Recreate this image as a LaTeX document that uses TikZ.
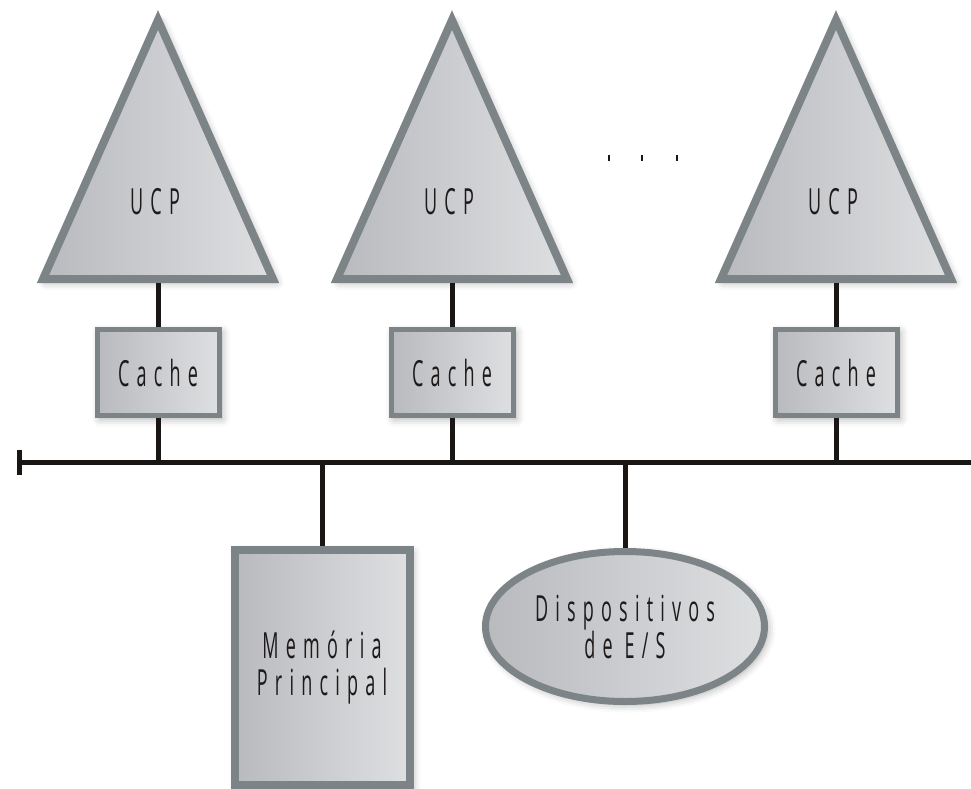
\documentclass[tikz,border=0pt]{standalone}
\usepackage{fontspec}
\usepackage{tikz}
\usetikzlibrary{shapes.geometric,shadows.blur,arrows.meta}
\newfontfamily\lblfont{Open Sans}[FakeStretch=0.5,LetterSpace=20]

\begin{document}
\begin{tikzpicture}[x=1pt,y=-1pt,
  part/.style={draw=partline, left color=partleft, right color=partright,
    blur shadow={shadow xshift=3pt,shadow yshift=-3pt,shadow blur radius=8pt,shadow opacity=35}},
  wire/.style={draw=wireblack, line width=5pt},
  lbl/.style={font=\lblfont\fontsize{36}{37}\selectfont, text=textdark, align=center}]
\definecolor{partline}{HTML}{7D8487}
\definecolor{partleft}{HTML}{B8BABE}
\definecolor{partright}{HTML}{DEDFE1}
\definecolor{wireblack}{HTML}{1A1614}
\definecolor{textdark}{HTML}{1E1A1A}

\useasboundingbox (0,0) rectangle (971,789);

\draw [part, line width=8pt] (158,20) -- (273,279) -- (43,279) -- cycle;
\draw [part, line width=8pt] (452,20) -- (567,279) -- (337,279) -- cycle;
\draw [part, line width=8pt] (836,20) -- (951,279) -- (721,279) -- cycle;
\node [lbl] (ucp1) at (155,202) {UCP};
\node [lbl] (ucp2) at (449,202) {UCP};
\node [lbl] (ucp3) at (833,202) {UCP};
\coordinate (ucp1base) at (158,283);
\coordinate (ucp2base) at (452,283);
\coordinate (ucp3base) at (836,283);

\foreach \x in {609,642,677}
  \draw [wireblack, line width=2.5pt] (\x,155) -- (\x,161);

\node [part, lbl, line width=5pt, minimum width=122pt, minimum height=86pt, inner sep=0pt] (cache1) at (158,372.5) {Cache};
\node [part, lbl, line width=5pt, minimum width=122pt, minimum height=86pt, inner sep=0pt] (cache2) at (452,372.5) {Cache};
\node [part, lbl, line width=5pt, minimum width=122pt, minimum height=86pt, inner sep=0pt] (cache3) at (836,372.5) {Cache};

\node [part, lbl, line width=8pt, minimum width=175pt, minimum height=235pt, inner sep=0pt] (mem) at (322,667.5) {Memória\\Principal};
\node [part, lbl, ellipse, line width=7pt, minimum width=279pt, minimum height=150pt, inner sep=0pt] (es) at (625,626.5) {Dispositivos\\de E/S};

\coordinate (busL) at (17,462);
\coordinate (busR) at (971,462);
\draw [wire, {Bar[width=25pt]}-] (busL) -- (busR);

\draw [wire] (ucp1base) -- (cache1.north);
\draw [wire] (ucp2base) -- (cache2.north);
\draw [wire] (ucp3base) -- (cache3.north);
\draw [wire] (cache1.south) -- (cache1.south |- busL);
\draw [wire] (cache2.south) -- (cache2.south |- busL);
\draw [wire] (cache3.south) -- (cache3.south |- busL);
\draw [wire] (mem.north |- busL) -- (mem.north);
\draw [wire] (es.north |- busL) -- (es.north);
\end{tikzpicture}
\end{document}
